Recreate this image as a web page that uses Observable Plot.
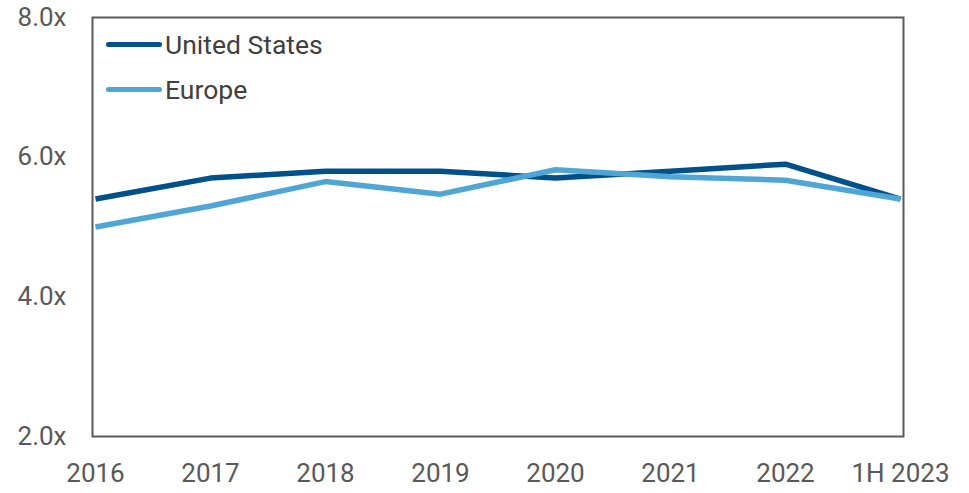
<!DOCTYPE html>
<html>
<head>
<meta charset="utf-8">
<script src="https://cdn.jsdelivr.net/npm/d3@7"></script>
<script src="https://cdn.jsdelivr.net/npm/@observablehq/plot@0.6"></script>
<style>
  html, body { margin: 0; padding: 0; background: #fff; }
  #wrap { position: relative; width: 969px; height: 493px; font-family: Roboto, sans-serif; }
  #legend { position: absolute; left: 106px; top: 22px; }
  .item { display: flex; align-items: center; height: 45px; font-size: 26.5px; color: #404040; }
  .swatch { width: 56px; height: 5px; border-radius: 3px; margin-right: 3px; }
</style>
</head>
<body>
<div id="wrap"><div id="legend"></div></div>
<script>
const periods = ["2016", "2017", "2018", "2019", "2020", "2021", "2022", "1H 2023"];
const unitedStates = [5.4, 5.7, 5.8, 5.8, 5.7, 5.8, 5.9, 5.4];
const europe = [5.0, 5.3, 5.65, 5.47, 5.82, 5.72, 5.67, 5.4];
const seriesNames = ["United States", "Europe"];
const seriesColors = ["#00508A", "#4FA6D5"];
const yTicks = [2, 4, 6, 8];

const data = [];
[unitedStates, europe].forEach((vals, s) => {
  vals.forEach((v, i) => data.push({period: periods[i], value: v, series: seriesNames[s]}));
});

const chart = Plot.plot({
  width: 969,
  height: 493,
  marginLeft: 92,
  marginRight: 66,
  marginTop: 17,
  marginBottom: 57,
  style: {fontFamily: "Roboto, sans-serif", fontSize: "26px", color: "#595959", background: "transparent"},
  x: {type: "point", domain: periods, padding: 0, label: null},
  y: {domain: [2, 8], label: null},
  color: {domain: seriesNames, range: seriesColors},
  marks: [
    Plot.axisY({ticks: yTicks, tickSize: 0, tickPadding: 26, tickFormat: d => d.toFixed(1) + "x", label: null, fill: "#595959"}),
    Plot.axisX({tickSize: 0, tickPadding: 27, label: null, fill: "#595959"}),
    Plot.line(data, {x: "period", y: "value", z: "series", stroke: "series", strokeWidth: 5.5, strokeLinejoin: "miter", strokeLinecap: "butt"}),
    Plot.frame({stroke: "#595959", strokeWidth: 2})
  ]
});
document.getElementById("wrap").prepend(chart);

const legend = document.getElementById("legend");
seriesNames.forEach((n, i) => {
  const it = document.createElement("div");
  it.className = "item";
  const sw = document.createElement("div");
  sw.className = "swatch";
  sw.style.background = seriesColors[i];
  const t = document.createElement("span");
  t.textContent = n;
  it.append(sw, t);
  legend.append(it);
});
</script>
</body>
</html>
